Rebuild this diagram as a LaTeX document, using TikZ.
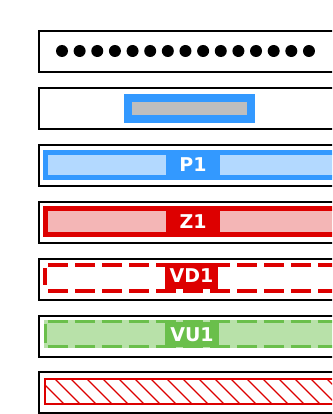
\documentclass[tikz,border=0pt]{standalone}
\usepackage{fontspec}
\newfontfamily\lblfont{DejaVu Sans}
\definecolor{bblue}{HTML}{3399FF}
\definecolor{lblue}{HTML}{B3D9FF}
\definecolor{rred}{HTML}{DD0000}
\definecolor{lpink}{HTML}{F4B6B6}
\definecolor{ggreen}{HTML}{6ABF4B}
\definecolor{lgreen}{HTML}{B8E1A9}
\definecolor{ggray}{HTML}{BEBEBE}
\begin{document}
\begin{tikzpicture}[x=1pt,y=-1pt,
  rowbox/.style={draw=black,line width=2.6pt},
  lbl/.style={inner sep=0pt,minimum width=54pt,text=white,font=\lblfont\bfseries\fontsize{19}{19}\selectfont},
  dash20/.style={dash pattern=on 20pt off 7pt}]
\clip (0,0) rectangle (332,414);
\fill[white] (0,0) rectangle (332,414);
% outer rows
\foreach \t in {31,88,145,202,259,316,372}
  \draw[rowbox] (39,\t) rectangle (420,\t+41);
% row 1: dots
\foreach \i in {0,...,14}
  \fill[black] (62+17.64*\i,51) circle (6);
% row 2: blue frame with gray bar
\draw[draw=bblue,fill=ggray,line width=8pt] (128,98) rectangle (250.5,119);
% row 3: P1
\draw[draw=bblue,fill=lblue,line width=5pt] (45.5,152.5) rectangle (420,177.5);
\node[lbl,fill=bblue,minimum height=30pt] (p1) at (193,165) {P1};
% row 4: Z1
\draw[draw=rred,fill=lpink,line width=5pt] (45.5,208.5) rectangle (420,234.5);
\node[lbl,fill=rred,minimum height=31pt] (z1) at (193,221.5) {Z1};
% row 5: VD1
\node[lbl,fill=rred,minimum height=26pt,minimum width=53pt] (vd1) at (191.5,276) {VD1};
\draw[draw=rred,line width=4.5pt,dash20,dash phase=-3pt] (45,265) -- (420,265);
\draw[draw=rred,line width=4.5pt,dash20,dash phase=-3pt] (45,291) -- (420,291);
\draw[draw=rred,line width=4.5pt,dash pattern=on 17pt off 20pt,dash phase=-3pt] (45,265) -- (45,291);
% row 6: VU1
\fill[lgreen] (44,320) rectangle (420,348);
\draw[draw=ggreen,line width=3.2pt,dash20,dash phase=-2pt] (45.5,321.5) -- (420,321.5);
\draw[draw=ggreen,line width=3.2pt,dash20,dash phase=-2pt] (45.5,346.5) -- (420,346.5);
\draw[draw=ggreen,line width=3.2pt,dash pattern=on 19pt off 20pt,dash phase=-2pt] (45.5,321.5) -- (45.5,346.5);
\node[lbl,fill=ggreen,minimum height=25pt] (vu1) at (192,334.5) {VU1};
% row 7: hatched
\begin{scope}
  \clip (45,379) rectangle (420,404);
  \foreach \i in {0,...,25}
    \draw[rred,line width=1.1pt] (39+16*\i,379) -- ++(25,25);
\end{scope}
\draw[rred,line width=2pt] (45,379) rectangle (420,404);
\end{tikzpicture}
\end{document}
